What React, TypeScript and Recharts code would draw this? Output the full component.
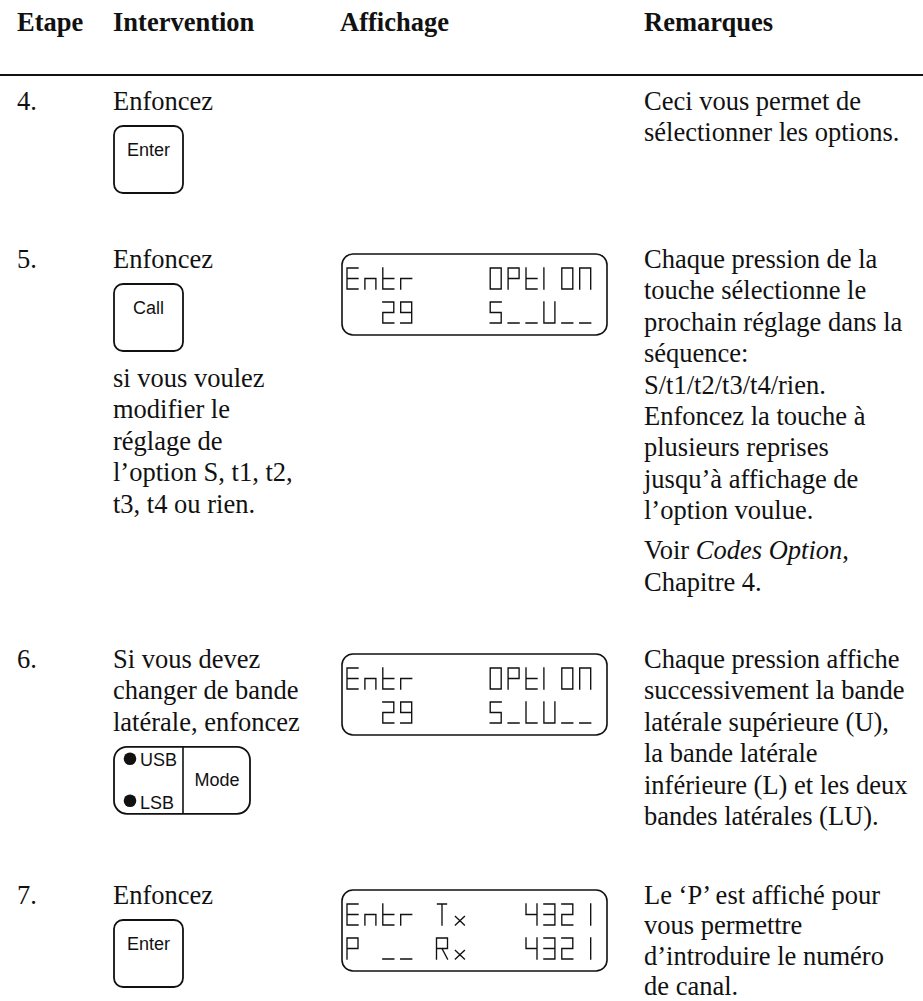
import { Surface, Layer, Text, Rectangle, Dot, Curve } from "recharts";

// page content
const HEADERS = ["Etape", "Intervention", "Affichage", "Remarques"];
const STEPS = ["4.", "5.", "6.", "7."];
const INTERVENTION = [
  ["Enfoncez"],
  ["Enfoncez"],
  ["Si vous devez", "changer de bande", "latérale, enfoncez"],
  ["Enfoncez"],
];
const AFTER_KEY = [
  [],
  ["si vous voulez", "modifier le", "réglage de", "l’option S, t1, t2,", "t3, t4 ou rien."],
  [],
  [],
];
const KEYS = ["Enter", "Call", "mode", "Enter"];
const MODE_LABELS = ["USB", "LSB", "Mode"];
const REMARKS = [
  ["Ceci vous permet de", "sélectionner les options."],
  [
    "Chaque pression de la",
    "touche sélectionne le",
    "prochain réglage dans la",
    "séquence:",
    "S/t1/t2/t3/t4/rien.",
    "Enfoncez la touche à",
    "plusieurs reprises",
    "jusqu’à affichage de",
    "l’option voulue.",
  ],
  [
    "Chaque pression affiche",
    "successivement la bande",
    "latérale supérieure (U),",
    "la bande latérale",
    "inférieure (L) et les deux",
    "bandes latérales (LU).",
  ],
  ["Le ‘P’ est affiché pour", "vous permettre", "d’introduire le numéro", "de canal."],
];
const NOTE = ["Voir ", "Codes Option", ","];
const NOTE_LINE2 = "Chapitre 4.";
const LCD_ROWS: (string[] | null)[] = [
  null,
  ["Entr    OPtION", "  29    S__U__"],
  ["Entr    OPtION", "  29    S_LU__"],
  ["Entr Tx   4321", "P __ Rx   4321"],
];

// layout
const W = 923;
const H = 1001;
const COL_X = [17, 113, 340, 644];
const HEADER_Y = 31;
const RULE_Y = 75;
const ROW_Y = [110, 268, 668, 904];
const LINE = 31.4;
// the last block sits against the bottom edge, a little tighter
const REMARK_LINE = [LINE, LINE, LINE, 30.3];
const SERIF = "'Liberation Serif', 'Times New Roman', serif";
const SANS = "'Liberation Sans', Arial, sans-serif";
const FS = 26.5;
const INK = "#111";

// 7-segment style glyphs of the radio display
const SEGS: Record<string, string[]> = {
  E: ["a", "f", "g", "e", "d"],
  n: ["g", "e", "c"],
  t: ["f", "g", "e", "d"],
  r: ["g", "e"],
  O: ["a", "b", "c", "d", "e", "f"],
  P: ["a", "b", "g", "f", "e"],
  I: ["f", "e"],
  N: ["a", "b", "c", "e", "f"],
  "2": ["a", "b", "g", "e", "d"],
  "9": ["a", "b", "c", "d", "f", "g"],
  S: ["a", "f", "g", "c", "d"],
  _: ["d"],
  U: ["b", "c", "d", "e", "f"],
  L: ["f", "e", "d"],
  T: ["ta", "v"],
  x: ["x1", "x2"],
  R: ["a", "b", "g", "f", "e", "rd"],
  "4": ["f", "g", "b", "c"],
  "3": ["a", "b", "g", "c", "d"],
  "1": ["b", "c"],
};

function segPath(seg: string, x: number, y: number, w: number, h: number) {
  const m = y + h / 2;
  const r = x + w;
  const b = y + h;
  switch (seg) {
    case "a": return `M${x},${y}H${r}`;
    case "b": return `M${r},${y}V${m}`;
    case "c": return `M${r},${m}V${b}`;
    case "d": return `M${x},${b}H${r}`;
    case "e": return `M${x},${m}V${b}`;
    case "f": return `M${x},${y}V${m}`;
    case "g": return `M${x},${m}H${r}`;
    case "ta": return `M${x + 1},${y}H${r - 1}`;
    case "v": return `M${x + w / 2},${y}V${b}`;
    case "x1": return `M${x + 1},${m + 2}L${r - 1},${b}`;
    case "x2": return `M${r - 1},${m + 2}L${x + 1},${b}`;
    case "rd": return `M${x + w / 2},${m}L${r},${b}`;
    default: return "";
  }
}

function LcdRow({ text, x, y }: { text: string; x: number; y: number }) {
  const pitch = 17.9;
  const w = 11;
  const h = 21;
  const d = text
    .split("")
    .map((ch, i) => (SEGS[ch] || []).map((s) => segPath(s, x + i * pitch, y, w, h)).join(""))
    .join("");
  return <path d={d} stroke={INK} strokeWidth={1.35} fill="none" strokeLinecap="square" />;
}

function Lcd({ rows, top }: { rows: string[]; top: number }) {
  return (
    <Layer>
      <Rectangle x={342} y={top} width={265} height={81} radius={11} fill="none" stroke={INK} strokeWidth={1.6} />
      <LcdRow text={rows[0]} x={347} y={top + 14} />
      <LcdRow text={rows[1]} x={347} y={top + 48} />
    </Layer>
  );
}

function Key({ label, top }: { label: string; top: number }) {
  return (
    <Layer>
      <Rectangle x={114} y={top} width={69} height={67} radius={9} fill="none" stroke={INK} strokeWidth={1.8} />
      <Text x={148.5} y={top + 30} textAnchor="middle" fontFamily={SANS} fontSize={18} fill={INK}>
        {label}
      </Text>
    </Layer>
  );
}

function ModeKey({ top }: { top: number }) {
  return (
    <Layer>
      <Rectangle x={114} y={top} width={136} height={67} radius={13} fill="none" stroke={INK} strokeWidth={1.8} />
      <Curve type="linear" points={[{ x: 183, y: top }, { x: 183, y: top + 67 }]} stroke={INK} strokeWidth={1.6} fill="none" />
      <Dot cx={130} cy={top + 12} r={6.3} fill={INK} />
      <Dot cx={130} cy={top + 54} r={6.3} fill={INK} />
      <Text x={140} y={top + 19} fontFamily={SANS} fontSize={18} fill={INK}>{MODE_LABELS[0]}</Text>
      <Text x={140} y={top + 62} fontFamily={SANS} fontSize={18} fill={INK}>{MODE_LABELS[1]}</Text>
      <Text x={217} y={top + 39} textAnchor="middle" fontFamily={SANS} fontSize={18} fill={INK}>{MODE_LABELS[2]}</Text>
    </Layer>
  );
}

function Lines({ lines, x, y, step = LINE }: { lines: string[]; x: number; y: number; step?: number }) {
  return (
    <>
      {lines.map((s, i) => (
        <Text key={i} x={x} y={y + i * step} fontFamily={SERIF} fontSize={FS} fill={INK}>
          {s}
        </Text>
      ))}
    </>
  );
}

export default function App() {
  return (
    <div style={{ position: "absolute", left: 0, top: 0, width: W, height: H, background: "#fff" }}>
      <Surface width={W} height={H}>
        {HEADERS.map((h, i) => (
          <Text key={h} x={COL_X[i]} y={HEADER_Y} fontFamily={SERIF} fontSize={FS} fontWeight="bold" fill={INK}>
            {h}
          </Text>
        ))}
        <Curve type="linear" points={[{ x: 0, y: RULE_Y }, { x: W, y: RULE_Y }]} stroke={INK} strokeWidth={2.2} fill="none" />

        {STEPS.map((step, i) => {
          const y0 = ROW_Y[i];
          const intro = INTERVENTION[i];
          const keyTop = y0 + (intro.length - 1) * LINE + 16;
          const rows = LCD_ROWS[i];
          return (
            <Layer key={step}>
              <Text x={COL_X[0]} y={y0} fontFamily={SERIF} fontSize={FS} fill={INK}>{step}</Text>
              <Lines lines={intro} x={COL_X[1]} y={y0} />
              {KEYS[i] === "mode" ? <ModeKey top={keyTop} /> : <Key label={KEYS[i]} top={keyTop} />}
              <Lines lines={AFTER_KEY[i]} x={COL_X[1]} y={keyTop + 67 + 36} />
              {rows && <Lcd rows={rows} top={y0 - 14} />}
              <Lines lines={REMARKS[i]} x={COL_X[3]} y={y0} step={REMARK_LINE[i]} />
              {i === 1 && (
                <>
                  <text x={COL_X[3]} y={y0 + 8 * LINE + 40} fontFamily={SERIF} fontSize={FS} fill={INK}>
                    <tspan>{NOTE[0]}</tspan>
                    <tspan fontStyle="italic">{NOTE[1]}</tspan>
                    <tspan>{NOTE[2]}</tspan>
                  </text>
                  <Text x={COL_X[3]} y={y0 + 9 * LINE + 40} fontFamily={SERIF} fontSize={FS} fill={INK}>
                    {NOTE_LINE2}
                  </Text>
                </>
              )}
            </Layer>
          );
        })}
      </Surface>
    </div>
  );
}
